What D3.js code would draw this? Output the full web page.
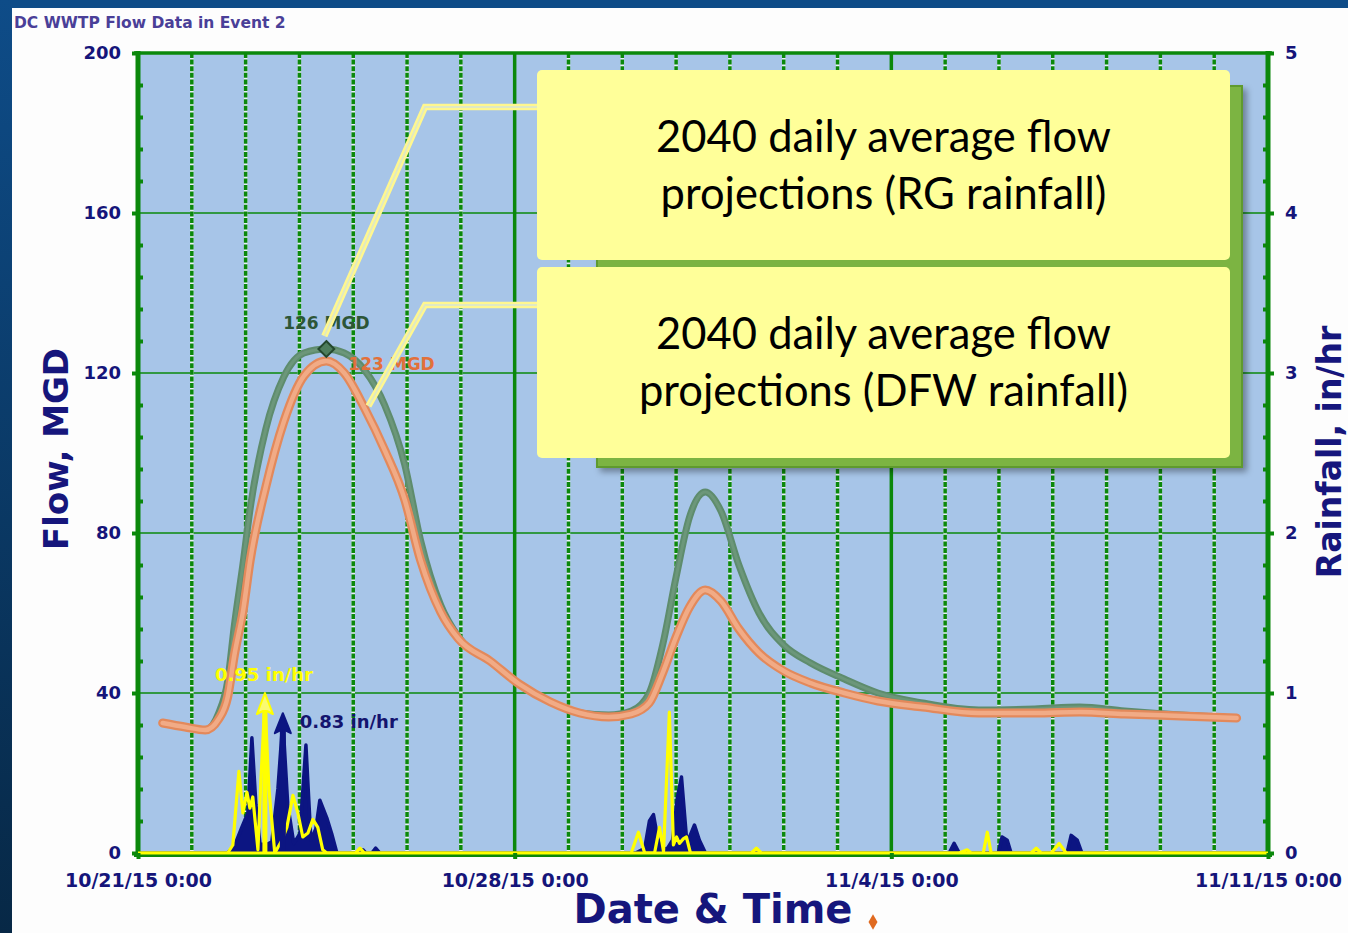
<!DOCTYPE html>
<html>
<head>
<meta charset="utf-8">
<script src="https://cdn.jsdelivr.net/npm/d3@7"></script>
<style>
  html, body { margin: 0; padding: 0; background: #fff; overflow: hidden; }
  svg { display: block; }
</style>
</head>
<body>
<svg id="chart" width="1348" height="933"></svg>
<script>
// ---- Data -------------------------------------------------------------
// Flow series, hours after 10/21/15 0:00, values in MGD
const flowHours = [11,21,30,36,40,43,47,50,57,65,74,84,92,101,110,119,126,135,143,157,170,184,197,210,220,228,234,240,246,253,260,268,277,288,300,315,330,350,375,400,420,440,465,490];
const flowRG    = [32.5,31.5,30.75,35,43,57,73,86,106,119,125,126,125,120.75,112,97,78.25,62,54,48,42.25,37.75,35,34.5,35.5,40,52,69,84,90.25,85.5,72,60,52,47.5,43.5,40,37.5,35.75,36,36.5,35.5,34.5,33.75];
const flowDFW   = [32.5,31.5,30.75,33.5,39,49.5,61,73,91.5,107.75,119.25,123,120,111.25,100.75,88.25,73.25,60.25,53.5,48,42.25,37.75,35,34,34.75,37.5,45,54,61.5,65.75,63,56,50,45.5,42.5,40,38,36.5,35,35,35.25,34.75,34.25,33.75];

// Rainfall intensity, hours after 10/21/15 0:00, values in in/hr
const rainRGHours  = [0,40,42.3,45,46.8,48.6,49.9,51.2,53.5,54.8,56.6,58.4,61,64.2,66.4,69.1,71.3,73.5,75.8,78,80.2,82.4,84.2,97,99,101,220,223.2,226,230.4,232.6,234.4,237,238.8,240.2,241.5,243.3,244.6,246.4,273.6,275.8,278,366.3,369.8,371.6,377,378.8,380.5,398.4,400.6,402.8,407.3,410.8,414,504];
const rainRG       = [0,0,0.05,0.51,0.25,0.38,0.28,0.35,0.02,0.45,0.95,0.4,0,0.08,0.16,0.36,0.25,0.1,0.125,0.21,0.16,0.02,0,0,0.03,0,0,0.13,0,0,0.16,0.01,0.88,0.05,0.1,0.06,0.09,0.1,0,0,0.03,0,0,0.02,0,0,0.13,0,0,0.03,0,0,0.06,0,0];
const rainDFWHours = [0,40,43.2,46.3,49,50.8,52.6,54.4,57,59.7,62.4,64.6,66.8,69.5,72.2,74.9,77.1,79.3,81.1,84.2,86.4,88.7,98.9,100.3,101.6,104.3,106,107.8,222,226,228.1,229.9,231.7,233.5,236.2,238.4,240.6,242.4,244.6,246,248.2,250.4,253.1,361.8,364,366.3,383.7,385.4,387.7,389.4,414.4,416.2,418.9,421,504];
const rainDFW      = [0,0,0.05,0.16,0.25,0.72,0.3,0.06,0.05,0.07,0.4,0.83,0.3,0.06,0.12,0.675,0.08,0.15,0.33,0.22,0.12,0,0,0.02,0,0,0.03,0,0,0.03,0.2,0.24,0.1,0.02,0.03,0.08,0.35,0.475,0.1,0.1,0.175,0.08,0,0,0.06,0,0,0.1,0.08,0,0,0.11,0.08,0,0];

// Axis ticks
const xTickDates  = ["2015-10-21","2015-10-28","2015-11-04","2015-11-11"];
const xTickLabels = ["10/21/15 0:00","10/28/15 0:00","11/4/15 0:00","11/11/15 0:00"];
const flowTicks   = [0,40,80,120,160,200];
const rainTicks   = [0,1,2,3,4,5];

// Annotations
const titleText    = "DC WWTP Flow Data in Event 2";
const peakRGLabel  = "126 MGD";
const peakDFWLabel = "123 MGD";
const rainRGLabel  = "0.95 in/hr";
const rainDFWLabel = "0.83 in/hr";
const calloutRG    = ["2040 daily average flow", "projections (RG rainfall)"];
const calloutDFW   = ["2040 daily average flow", "projections (DFW rainfall)"];

// ---- Setup ------------------------------------------------------------
const svg = d3.select("#chart");
const W = 1348, H = 933;
const plot = { left: 138, right: 1268, top: 53, bottom: 853 };
const t0 = Date.UTC(2015, 9, 21);
const hourToDate = h => new Date(t0 + h * 3600e3);

const x = d3.scaleUtc()
  .domain([new Date(t0), new Date(Date.UTC(2015, 10, 11))])
  .range([plot.left, plot.right]);
const yFlow = d3.scaleLinear().domain([0, 200]).range([plot.bottom, plot.top]);
const yRain = d3.scaleLinear().domain([0, 5]).range([plot.bottom, plot.top]);

const GREEN = "#0b880b";
const NAVY = "#15157a";
const FONT = "'DejaVu Sans', Verdana, sans-serif";

const defs = svg.append("defs");
const edge = defs.append("linearGradient").attr("id", "edgeGrad")
  .attr("x1", 0).attr("y1", 0).attr("x2", 0).attr("y2", 1);
edge.append("stop").attr("offset", "0%").attr("stop-color", "#0e4c88");
edge.append("stop").attr("offset", "100%").attr("stop-color", "#072846");
const shadow = defs.append("filter").attr("id", "boxShadow")
  .attr("x", "-5%").attr("y", "-5%").attr("width", "115%").attr("height", "115%");
shadow.append("feDropShadow").attr("dx", 4).attr("dy", 4).attr("stdDeviation", 3)
  .attr("flood-color", "#000").attr("flood-opacity", 0.35);

// Page background and slide frame
svg.append("rect").attr("width", W).attr("height", H).attr("fill", "#fdfdfd");
svg.append("rect").attr("width", W).attr("height", 8).attr("fill", "#0e4c88");
svg.append("rect").attr("width", 12).attr("height", H).attr("fill", "url(#edgeGrad)");

// Title
svg.append("text").attr("x", 14).attr("y", 28)
  .attr("font-family", FONT).attr("font-weight", "bold").attr("font-size", 15.5)
  .attr("fill", "#4a3f98").text(titleText);

// Plot background
svg.append("rect")
  .attr("x", plot.left).attr("y", plot.top)
  .attr("width", plot.right - plot.left).attr("height", plot.bottom - plot.top)
  .attr("fill", "#a7c5e8");

// Horizontal grid lines
svg.append("g").selectAll("line")
  .data(flowTicks.filter(v => v > 0 && v < 200))
  .join("line")
  .attr("x1", plot.left).attr("x2", plot.right)
  .attr("y1", d => yFlow(d)).attr("y2", d => yFlow(d))
  .attr("stroke", GREEN).attr("stroke-width", 1.5);

// Daily vertical grid lines (dashed) and weekly lines (solid)
const days = d3.utcDay.range(d3.utcDay.offset(x.domain()[0], 1), x.domain()[1]);
const weekly = new Set(xTickDates.map(s => Date.parse(s + "T00:00:00Z")));
const vg = svg.append("g");
days.forEach(d => {
  const xx = x(d);
  if (weekly.has(+d)) {
    vg.append("line").attr("x1", xx).attr("x2", xx).attr("y1", plot.top).attr("y2", plot.bottom)
      .attr("stroke", GREEN).attr("stroke-width", 3.5);
  } else {
    vg.append("line").attr("x1", xx).attr("x2", xx).attr("y1", plot.top).attr("y2", plot.bottom)
      .attr("stroke", "#e8f0f8").attr("stroke-width", 3.5);
    vg.append("line").attr("x1", xx).attr("x2", xx).attr("y1", plot.top).attr("y2", plot.bottom)
      .attr("stroke", GREEN).attr("stroke-width", 3.5).attr("stroke-dasharray", "5,1.6");
  }
});

// ---- Flow curves --------------------------------------------------------
const flowLine = vals => d3.line()
  .x((h) => x(hourToDate(h)))
  .y((h, i) => yFlow(vals[i]))
  .curve(d3.curveMonotoneX)(flowHours);

svg.append("path").attr("d", flowLine(flowRG))
  .attr("fill", "none").attr("stroke", "#5e8c6d").attr("stroke-width", 7)
  .attr("stroke-linejoin", "round").attr("stroke-linecap", "round");
svg.append("path").attr("d", flowLine(flowRG))
  .attr("fill", "none").attr("stroke", "#6c977a").attr("stroke-width", 3)
  .attr("stroke-linejoin", "round").attr("stroke-linecap", "round");
svg.append("path").attr("d", flowLine(flowDFW))
  .attr("fill", "none").attr("stroke", "#e3895b").attr("stroke-width", 9)
  .attr("stroke-linejoin", "round").attr("stroke-linecap", "round");
svg.append("path").attr("d", flowLine(flowDFW))
  .attr("fill", "none").attr("stroke", "#f1ab86").attr("stroke-width", 4.5)
  .attr("stroke-linejoin", "round").attr("stroke-linecap", "round");

// Peak markers and labels
const iRG = flowRG.indexOf(d3.max(flowRG));
const iDFW = flowDFW.indexOf(d3.max(flowDFW));
const pRG = [x(hourToDate(flowHours[iRG])), yFlow(flowRG[iRG])];
const pDFW = [x(hourToDate(flowHours[iDFW])), yFlow(flowDFW[iDFW])];
svg.append("path")
  .attr("d", d3.symbol(d3.symbolDiamond2, 160)())
  .attr("transform", `translate(${pRG[0]},${pRG[1]})`)
  .attr("fill", "#4d7d5c").attr("stroke", "#24482d").attr("stroke-width", 2);
svg.append("text").attr("x", pRG[0]).attr("y", pRG[1] - 20)
  .attr("text-anchor", "middle").attr("font-family", FONT).attr("font-weight", "bold")
  .attr("font-size", 17).attr("fill", "#2d5637").text(peakRGLabel);
svg.append("text").attr("x", pDFW[0] + 22).attr("y", pDFW[1] + 9)
  .attr("font-family", FONT).attr("font-weight", "bold")
  .attr("font-size", 17).attr("fill", "#e2703a").text(peakDFWLabel);

// ---- Rainfall -----------------------------------------------------------
const rainArea = d3.area()
  .x(h => x(hourToDate(h)))
  .y0(yRain(0))
  .y1((h, i) => yRain(rainDFW[i]));
svg.append("path").attr("d", rainArea(rainDFWHours))
  .attr("fill", "#0c1582").attr("stroke", "#0c1582").attr("stroke-width", 3.5)
  .attr("stroke-linejoin", "round");

const rainLine = d3.line()
  .x(h => x(hourToDate(h)))
  .y((h, i) => yRain(rainRG[i]));
svg.append("path").attr("d", rainLine(rainRGHours))
  .attr("fill", "none").attr("stroke", "#ffff00").attr("stroke-width", 3.2)
  .attr("stroke-linejoin", "round");

// Peak arrows for rainfall
function peakArrow(hours, vals, color, fill, shaftW, tipGap) {
  const i = vals.indexOf(d3.max(vals));
  const cx = x(hourToDate(hours[i])), cy = yRain(vals[i]);
  svg.append("line").attr("x1", cx).attr("x2", cx).attr("y1", cy + 8).attr("y2", yRain(0))
    .attr("stroke", color).attr("stroke-width", shaftW);
  svg.append("path")
    .attr("d", `M${cx},${cy - tipGap} L${cx + 8},${cy + 13} L${cx + 2},${cy + 10} L${cx - 2},${cy + 10} L${cx - 8},${cy + 13} Z`)
    .attr("fill", fill).attr("stroke", color).attr("stroke-width", 2).attr("stroke-linejoin", "round");
  return [cx, cy];
}
const aDFW = peakArrow(rainDFWHours, rainDFW, "#0c1582", "#0c1582", 6, 7);
const aRG = peakArrow(rainRGHours, rainRG, "#ffff00", "#fafa70", 5, 8);

svg.append("text").attr("x", aRG[0] - 50).attr("y", aRG[1] - 20)
  .attr("font-family", FONT).attr("font-weight", "bold").attr("font-size", 18)
  .attr("fill", "#ffff00").text(rainRGLabel);
svg.append("text").attr("x", aDFW[0] + 17).attr("y", aDFW[1] + 8)
  .attr("font-family", FONT).attr("font-weight", "bold").attr("font-size", 18)
  .attr("fill", "#14146e").text(rainDFWLabel);

// ---- Axes -----------------------------------------------------------------
// Plot frame
const frame = svg.append("g").attr("stroke", GREEN);
frame.append("line").attr("x1", plot.left - 4).attr("x2", plot.right + 4).attr("y1", plot.top).attr("y2", plot.top).attr("stroke-width", 3.5);
frame.append("line").attr("x1", plot.left - 4).attr("x2", plot.right + 4).attr("y1", plot.bottom + 2).attr("y2", plot.bottom + 2).attr("stroke-width", 4);
frame.append("line").attr("x1", plot.left).attr("x2", plot.left).attr("y1", plot.top - 2).attr("y2", plot.bottom + 4).attr("stroke-width", 5);
frame.append("line").attr("x1", plot.right).attr("x2", plot.right).attr("y1", plot.top - 2).attr("y2", plot.bottom + 4).attr("stroke-width", 5);
// yellow rain baseline along the bottom
svg.append("line").attr("x1", plot.left).attr("x2", plot.right)
  .attr("y1", yRain(0)).attr("y2", yRain(0))
  .attr("stroke", "#ffff00").attr("stroke-width", 3);

function styleAxis(g, fontSize) {
  g.select(".domain").remove();
  g.selectAll(".tick line").attr("stroke", GREEN).attr("stroke-width", 4);
  g.selectAll(".tick text").attr("font-family", FONT).attr("font-weight", "bold")
    .attr("font-size", fontSize).attr("fill", NAVY);
}

// minor ticks
const flowMinor = d3.range(8, 200, 8).filter(v => v % 40 !== 0);
svg.append("g").attr("transform", `translate(${plot.left},0)`)
  .call(d3.axisLeft(yFlow).tickValues(flowMinor).tickSize(-5).tickFormat(""))
  .call(g => styleAxis(g, 0));
svg.append("g").attr("transform", `translate(${plot.right},0)`)
  .call(d3.axisRight(yRain).tickValues(flowMinor.map(v => v / 40)).tickSize(-5).tickFormat(""))
  .call(g => styleAxis(g, 0));

svg.append("g").attr("transform", `translate(${plot.left},0)`)
  .call(d3.axisLeft(yFlow).tickValues(flowTicks).tickSize(6).tickPadding(11).tickFormat(d3.format("d")))
  .call(g => styleAxis(g, 18));
svg.append("g").attr("transform", `translate(${plot.right},0)`)
  .call(d3.axisRight(yRain).tickValues(rainTicks).tickSize(6).tickPadding(11).tickFormat(d3.format("d")))
  .call(g => styleAxis(g, 18));

const xTicks = xTickDates.map(s => new Date(s + "T00:00:00Z"));
svg.append("g").attr("transform", `translate(0,${plot.bottom})`)
  .call(d3.axisBottom(x).tickValues(xTicks).tickSize(6).tickPadding(15)
    .tickFormat((d, i) => xTickLabels[i]))
  .call(g => styleAxis(g, 19));

// Axis titles
svg.append("text").attr("transform", "translate(68,449) rotate(-90)")
  .attr("text-anchor", "middle").attr("font-family", FONT).attr("font-weight", "bold")
  .attr("font-size", 34).attr("fill", "#16167c").text("Flow, MGD");
svg.append("text").attr("transform", "translate(1341,452) rotate(-90)")
  .attr("text-anchor", "middle").attr("font-family", FONT).attr("font-weight", "bold")
  .attr("font-size", 33).attr("fill", "#16167c").text("Rainfall, in/hr");
svg.append("text").attr("x", 713).attr("y", 923)
  .attr("text-anchor", "middle").attr("font-family", FONT).attr("font-weight", "bold")
  .attr("font-size", 40).attr("fill", "#16167c").text("Date & Time");
svg.append("path").attr("d", d3.symbol(d3.symbolDiamond, 70)())
  .attr("transform", "translate(873,922)").attr("fill", "#e06a20");

// ---- Callouts -------------------------------------------------------------
// leader lines from the flow curves to the text boxes
const leaderDFWidx = flowHours.indexOf(101);
const leaders = [
  [[pRG[0] - 2, pRG[1] - 13], [425, 107], [537, 107]],
  [[x(hourToDate(flowHours[leaderDFWidx])) + 4, yFlow(flowDFW[leaderDFWidx]) - 2], [425, 305], [537, 305]]
];
leaders.forEach(pts => {
  const d = d3.line()(pts);
  svg.append("path").attr("d", d).attr("fill", "none")
    .attr("stroke", "#fff78f").attr("stroke-width", 6.5).attr("stroke-linejoin", "miter");
  svg.append("path").attr("d", d).attr("fill", "none")
    .attr("stroke", "#dfe9c4").attr("stroke-width", 1.8).attr("stroke-linejoin", "miter");
});

svg.append("rect").attr("x", 597).attr("y", 86).attr("width", 645).attr("height", 381)
  .attr("fill", "#7bb443").attr("stroke", "#5f9a2f").attr("stroke-width", 2)
  .attr("filter", "url(#boxShadow)");

const boxes = [
  { y: 70, h: 190, lines: calloutRG },
  { y: 267, h: 191, lines: calloutDFW }
];
const CALLOUT_FONT = "Lato, 'Open Sans', sans-serif";
boxes.forEach(b => {
  svg.append("rect").attr("x", 537).attr("y", b.y).attr("width", 693).attr("height", b.h)
    .attr("rx", 5).attr("fill", "#ffff99");
  const cx = 537 + 693 / 2;
  const g = svg.append("g");
  b.lines.forEach((t, i) => {
    g.append("text").attr("x", 0).attr("y", b.y + 82 + i * 57)
      .attr("text-anchor", "middle").attr("font-family", CALLOUT_FONT)
      .attr("font-size", 44).attr("fill", "#000").text(t);
  });
  // condense horizontally to a Calibri-like width
  const w0 = g.select("text").node().getComputedTextLength();
  const k = 455 / w0;
  g.attr("transform", `translate(${cx},0) scale(${k},1)`);
});
</script>
</body>
</html>
